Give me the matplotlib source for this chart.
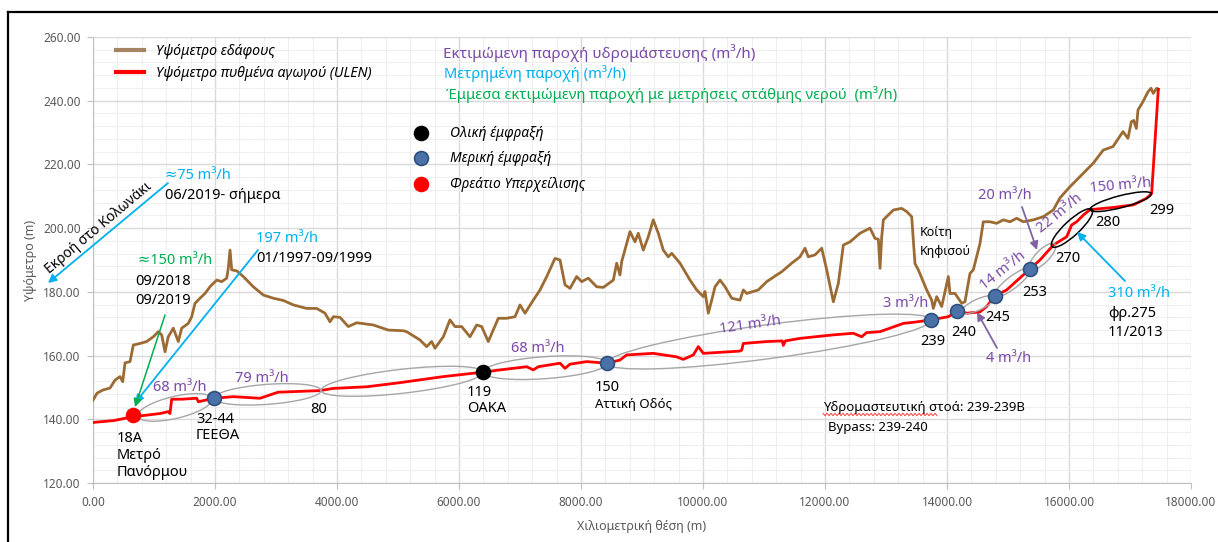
import numpy as np
import matplotlib
matplotlib.use("Agg")
import matplotlib.pyplot as plt
from matplotlib.transforms import Affine2D, IdentityTransform
from matplotlib.patches import Ellipse
from matplotlib.lines import Line2D
from matplotlib.ticker import FormatStrFormatter

W, H = 1218, 542
plt.rcParams["font.family"] = ["Noto Sans", "DejaVu Sans"]

# ---- ground elevation along the conduit (chainage m, elevation m)
ground_x = [0, 66, 164, 279, 361, 443, 487, 525, 607, 661, 770, 880, 989, 1071, 1126,
            1180, 1234, 1316, 1398, 1454, 1562, 1618, 1672, 1754, 1836, 1918, 2028,
            2110, 2192, 2218, 2246, 2274, 2356, 2464, 2628, 2792, 2956, 3120, 3284,
            3503, 3667, 3803, 3885, 3940, 4049, 4185, 4323, 4595, 4841, 5087, 5142,
            5360, 5470, 5552, 5606, 5743, 5852, 5934, 6044, 6180, 6290, 6372, 6480,
            6644, 6782, 6918, 7000, 7082, 7218, 7328, 7438, 7574, 7656, 7738, 7820,
            7929, 8011, 8120, 8257, 8366, 8530, 8585, 8639, 8667, 8803, 8885, 8939,
            9021, 9103, 9185, 9267, 9349, 9431, 9487, 9623, 9787, 9897, 10005, 10033,
            10087, 10143, 10197, 10279, 10361, 10471, 10607, 10661, 10716, 10906,
            11044, 11208, 11290, 11454, 11590, 11672, 11726, 11836, 11946, 12028,
            12137, 12219, 12301, 12411, 12574, 12738, 12820, 12875, 12902, 12930,
            12957, 13121, 13257, 13339, 13421, 13475, 13530, 13667, 13749, 13776,
            13831, 13913, 13967, 14022, 14049, 14131, 14241, 14295, 14377, 14431,
            14486, 14541, 14595, 14705, 14814, 14923, 15033, 15142, 15251, 15415,
            15579, 15743, 15852, 16016, 16197, 16398, 16561, 16721, 16885, 16967,
            17022, 17060, 17104, 17131, 17213, 17295, 17345, 17382, 17436, 17464]
ground_z = [146.0, 148.2, 149.2, 149.8, 152.3, 153.4, 151.8, 157.7, 158.1, 163.3, 163.8,
            164.4, 165.9, 167.5, 166.5, 161.2, 165.9, 168.6, 164.4, 168.6, 170.1, 172.2,
            176.4, 178.0, 179.5, 181.6, 183.7, 183.2, 184.3, 187.4, 193.1, 186.9, 186.6,
            184.8, 181.6, 179.0, 178.0, 177.3, 175.9, 174.8, 174.8, 173.3, 170.6, 172.2,
            172.0, 169.1, 170.3, 169.6, 168.0, 167.8, 167.5, 164.9, 162.8, 164.4, 162.3,
            165.9, 171.2, 169.1, 169.1, 165.9, 169.6, 169.1, 164.4, 171.7, 171.7, 172.2,
            175.9, 173.3, 177.4, 180.6, 184.8, 190.5, 190.0, 182.2, 181.1, 184.8, 183.2,
            184.3, 181.6, 181.4, 183.7, 189.0, 185.3, 189.5, 198.9, 195.7, 198.4, 193.1,
            197.3, 202.6, 198.4, 193.1, 191.0, 192.1, 189.0, 183.7, 180.6, 178.5, 180.1,
            173.3, 177.4, 181.6, 183.7, 181.6, 178.0, 177.4, 180.6, 179.5, 180.6, 183.2,
            185.3, 186.3, 189.0, 191.0, 193.7, 191.0, 191.6, 193.7, 186.9, 176.9, 182.7,
            194.7, 195.7, 198.4, 200.0, 196.8, 196.5, 187.4, 197.3, 202.6, 205.7, 206.2,
            205.2, 203.6, 188.9, 186.9, 180.6, 177.4, 174.8, 178.5, 175.4, 180.0, 184.8,
            179.5, 179.5, 176.4, 176.9, 185.8, 186.9, 191.0, 195.2, 202.0, 202.0, 201.5,
            202.6, 202.0, 203.1, 202.0, 202.6, 203.6, 205.7, 209.5, 213.0, 216.5, 220.4,
            224.5, 225.6, 230.3, 228.2, 233.4, 233.8, 231.3, 237.1, 239.7, 242.8, 243.9,
            242.3, 243.9, 243.6]

# ---- conduit invert elevation (ULEN survey)
pipe_x = [0, 339, 656, 880, 1098, 1234, 1262, 1290, 1454, 1700, 1727, 1984, 2301, 2738,
          3034, 3721, 3940, 4486, 5033, 5743, 6393, 6672, 7109, 7218, 7300, 7656, 7738,
          7820, 8093, 8426, 8639, 8748, 9185, 9568, 9677, 9841, 9923, 10005, 10600,
          10634, 10661, 11044, 11300, 11317, 11350, 11590, 12137, 12465, 12602, 12680,
          12902, 13284, 13475, 13738, 14022, 14164, 14322, 14541, 14650, 14787, 14978,
          15360, 15524, 15743, 15962, 16044, 16126, 16235, 16344, 16727, 17055, 17273,
          17355, 17464]
pipe_z = [139.0, 139.6, 140.8, 141.3, 141.8, 142.4, 141.8, 146.3, 146.3, 146.6, 145.5,
          146.6, 147.1, 146.6, 148.5, 149.0, 149.7, 150.2, 151.5, 153.4, 154.8, 155.5,
          156.5, 155.5, 156.5, 157.6, 156.0, 157.3, 158.1, 157.6, 158.6, 160.2, 160.7,
          159.6, 158.8, 160.2, 162.8, 160.7, 161.4, 161.7, 163.8, 164.4, 164.6, 163.2,
          164.6, 165.4, 166.5, 167.0, 165.9, 167.2, 167.5, 170.1, 170.5, 171.2, 172.2,
          174.0, 173.3, 173.7, 175.4, 178.7, 180.6, 187.2, 190.0, 194.7, 197.3, 201.0,
          202.0, 204.1, 205.8, 206.5, 207.3, 209.4, 210.9, 243.6]

# ---- manholes along the conduit
shaft_names = ["18A", "32-44", "119", "150", "239", "240", "245", "253"]
shaft_x = [656, 1984, 6393, 8426, 13738, 14164, 14787, 15360]
shaft_z = [141.2, 146.7, 154.8, 157.7, 171.2, 174.0, 178.7, 187.2]
shaft_kind = ["overflow", "partial", "total", "partial", "partial", "partial",
              "partial", "partial"]

# ---- conduit reaches grouped by infiltration estimate (start, end chainage)
reach_start = [738, 1984, 3738, 6393, 8426, 14246, 14787, 15360, 15721, 16344]
reach_end = [1951, 3738, 6393, 8426, 13738, 14770, 15360, 15770, 16377, 17350]
reach_width = [22, 20, 24, 22, 34, 11, 12, 13, 15, 12]
reach_edge = ["#a6a6a6"] * 8 + ["#000000", "#000000"]

GROUND = "#9c6b34"
PIPE = "#ff0000"
PURPLE = "#7a4aa8"
CYAN = "#00b0f0"
GREEN = "#00b050"
KIND_STYLE = {"total": ("#000000", "#000000"),
              "partial": ("#4a72a8", "#2f4f7f"),
              "overflow": ("#ff0000", "#ff0000")}

fig = plt.figure(figsize=(W / 100, H / 100), dpi=100)
ax = fig.add_axes([93 / W, 1 - 483 / H, (1191 - 93) / W, (483 - 37) / H])
ax.set_xlim(0, 18000)
ax.set_ylim(120, 260)
ax.set_xticks(np.arange(0, 18001, 2000))
ax.set_yticks(np.arange(120, 261, 20))
ax.set_xticks(np.arange(0, 18001, 400), minor=True)
ax.set_yticks(np.arange(120, 261, 4), minor=True)
ax.xaxis.set_major_formatter(FormatStrFormatter("%.2f"))
ax.yaxis.set_major_formatter(FormatStrFormatter("%.2f"))
ax.grid(which="major", color="#d9d9d9", lw=1.0)
ax.grid(which="minor", color="#efefef", lw=0.8)
ax.set_axisbelow(True)
ax.tick_params(which="minor", length=0)
ax.tick_params(which="major", length=4, color="#bfbfbf", labelsize=8.5,
               labelcolor="#595959", pad=5)
for s in ("top", "right"):
    ax.spines[s].set_visible(False)
for s in ("left", "bottom"):
    ax.spines[s].set_color("#bfbfbf")
ax.set_xlabel("Χιλιομετρική θέση (m)", fontsize=9, color="#595959", labelpad=8)
ax.set_ylabel("Υψόμετρο (m)", fontsize=9, color="#595959", labelpad=4)

ax.plot(ground_x, ground_z, color=GROUND, lw=2.0, zorder=3)
ax.plot(pipe_x, pipe_z, color=PIPE, lw=2.0, zorder=4)

for x, z, k in zip(shaft_x, shaft_z, shaft_kind):
    fc, ec = KIND_STYLE[k]
    ax.plot([x], [z], "o", ms=10, mfc=fc, mec=ec, mew=1.2, zorder=6)

# reach ellipses drawn in screen space so their axis follows the conduit
for x1, x2, wd, ec in zip(reach_start, reach_end, reach_width, reach_edge):
    p1 = ax.transData.transform((x1, np.interp(x1, pipe_x, pipe_z)))
    p2 = ax.transData.transform((x2, np.interp(x2, pipe_x, pipe_z)))
    c = (p1 + p2) / 2
    d = p2 - p1
    ax.add_patch(Ellipse(c, width=np.hypot(*d), height=wd,
                         angle=np.degrees(np.arctan2(d[1], d[0])),
                         transform=IdentityTransform(), fill=False,
                         edgecolor=ec, lw=1.0 if ec != "#000000" else 1.1,
                         zorder=5))

# pixel coordinates measured from the top-left corner of the figure
pix = Affine2D().scale(1, -1).translate(0, H)


def txt(s, x, y, color="black", size=10.5, ha="left", va="baseline",
        style="normal", rot=0):
    fig.text(x, y, s, transform=pix, color=color, fontsize=size, ha=ha, va=va,
             style=style, rotation=rot, rotation_mode="anchor")


def arrow(x0, y0, x1, y1, color, lw=1.3):
    fig.add_artist(matplotlib.patches.FancyArrowPatch(
        (x0, y0), (x1, y1), transform=pix, arrowstyle="-|>", color=color,
        lw=lw, mutation_scale=12, shrinkA=0, shrinkB=0))


# line legend
fig.add_artist(Line2D([116, 144], [50, 50], transform=pix, color="#a58463", lw=3))
fig.add_artist(Line2D([116, 144], [72, 72], transform=pix, color=PIPE, lw=3))
txt("Υψόμετρο εδάφους", 156, 55, size=10.2, style="italic")
txt("Υψόμετρο πυθμένα αγωγού (ULEN)", 156, 77, size=10.2, style="italic")

# colour legend for the discharge labels
txt("Εκτιμώμενη παροχή υδρομάστευσης (m³/h)", 443, 58, color=PURPLE, size=11)
txt("Μετρημένη παροχή (m³/h)", 444, 78, color=CYAN, size=10.6)
txt("Έμμεσα εκτιμώμενη παροχή με μετρήσεις στάθμης νερού  (m³/h)", 446, 99,
    color=GREEN, size=10.7)

# marker legend
for yy, k, lab in [(133, "total", "Ολική έμφραξή"), (158, "partial", "Μερική έμφραξή"),
                   (184, "overflow", "Φρεάτιο Υπερχείλισης")]:
    fc, ec = KIND_STYLE[k]
    fig.add_artist(Line2D([421], [yy], transform=pix, marker="o", ms=10, mfc=fc,
                          mec=ec, mew=1.2, lw=0))
    txt(lab, 450, yy + 4, size=10, style="italic")

# manhole and chainage labels
for s, x, y in [("18A", 117, 442), ("Μετρό", 117, 459), ("Πανόρμου", 117, 476),
                ("32-44", 196, 423), ("ΓΕΕΘΑ", 196, 439), ("80", 310, 413),
                ("119", 467, 396), ("ΟΑΚΑ", 467, 412), ("150", 595, 391),
                ("239", 920, 345), ("240", 951, 336), ("245", 985, 321),
                ("253", 1022, 296), ("270", 1055, 262), ("280", 1095, 226),
                ("299", 1149, 214), ("φρ.275", 1108, 317), ("11/2013", 1108, 336),
                ("06/2019- σήμερα", 165, 199), ("01/1997-09/1999", 256, 262),
                ("09/2018", 135, 285), ("09/2019", 135, 304)]:
    txt(s, x, y)
txt("Αττική Οδός", 595, 408, size=9.5)
txt("Κοίτη", 920, 236, size=9)
txt("Κηφισού", 920, 255, size=9)
txt("Υδρομαστευτική στοά: 239-239Β", 823, 411, size=9.5)
txt("Bypass: 239-240", 828, 431, size=9.5)
t = np.linspace(823, 937, 58)
fig.add_artist(Line2D(t, 414.5 + 1.2 * np.where(np.arange(58) % 2, 1, -1),
                      transform=pix, color="#ff4040", lw=0.7))

# measured / estimated discharges
txt("≈75 m³/h", 165, 179, color=CYAN)
txt("197 m³/h", 256, 242, color=CYAN)
txt("310 m³/h", 1108, 297, color=CYAN)
txt("≈150 m³/h", 138, 264, color=GREEN)
txt("68 m³/h", 153, 391, color=PURPLE)
txt("79 m³/h", 235, 382, color=PURPLE)
txt("68 m³/h", 511, 352, color=PURPLE)
txt("3 m³/h", 883, 307, color=PURPLE)
txt("20 m³/h", 978, 199, color=PURPLE)
txt("4 m³/h", 986, 362, color=PURPLE)
txt("121 m³/h", 750, 325, color=PURPLE, ha="center", va="center", rot=8)
txt("14 m³/h", 1003, 271, color=PURPLE, ha="center", va="center", rot=38)
txt("22 m³/h", 1060, 213, color=PURPLE, ha="center", va="center", rot=39)
txt("150 m³/h", 1121, 186, color=PURPLE, ha="center", va="center", rot=5)
txt("Εκροή στο Κολωνάκι", 99, 228, ha="center", va="center", rot=40, size=10)

arrow(168, 183, 48, 283, CYAN)
arrow(258, 250, 135, 403, CYAN)
arrow(1125, 281, 1077, 232, CYAN)
arrow(165, 315, 135, 407, GREEN, lw=1.1)
arrow(1022, 207, 1037, 250, "#8064a2", lw=1.3)
arrow(997, 348, 977, 312, "#8064a2", lw=1.3)

# chart frame
fig.add_artist(Line2D([8, 8], [12, H], transform=pix, color="black", lw=1.6))
fig.add_artist(Line2D([8, W], [12, 12], transform=pix, color="black", lw=1.6))

fig.savefig("out.png", dpi=100, facecolor="white")
